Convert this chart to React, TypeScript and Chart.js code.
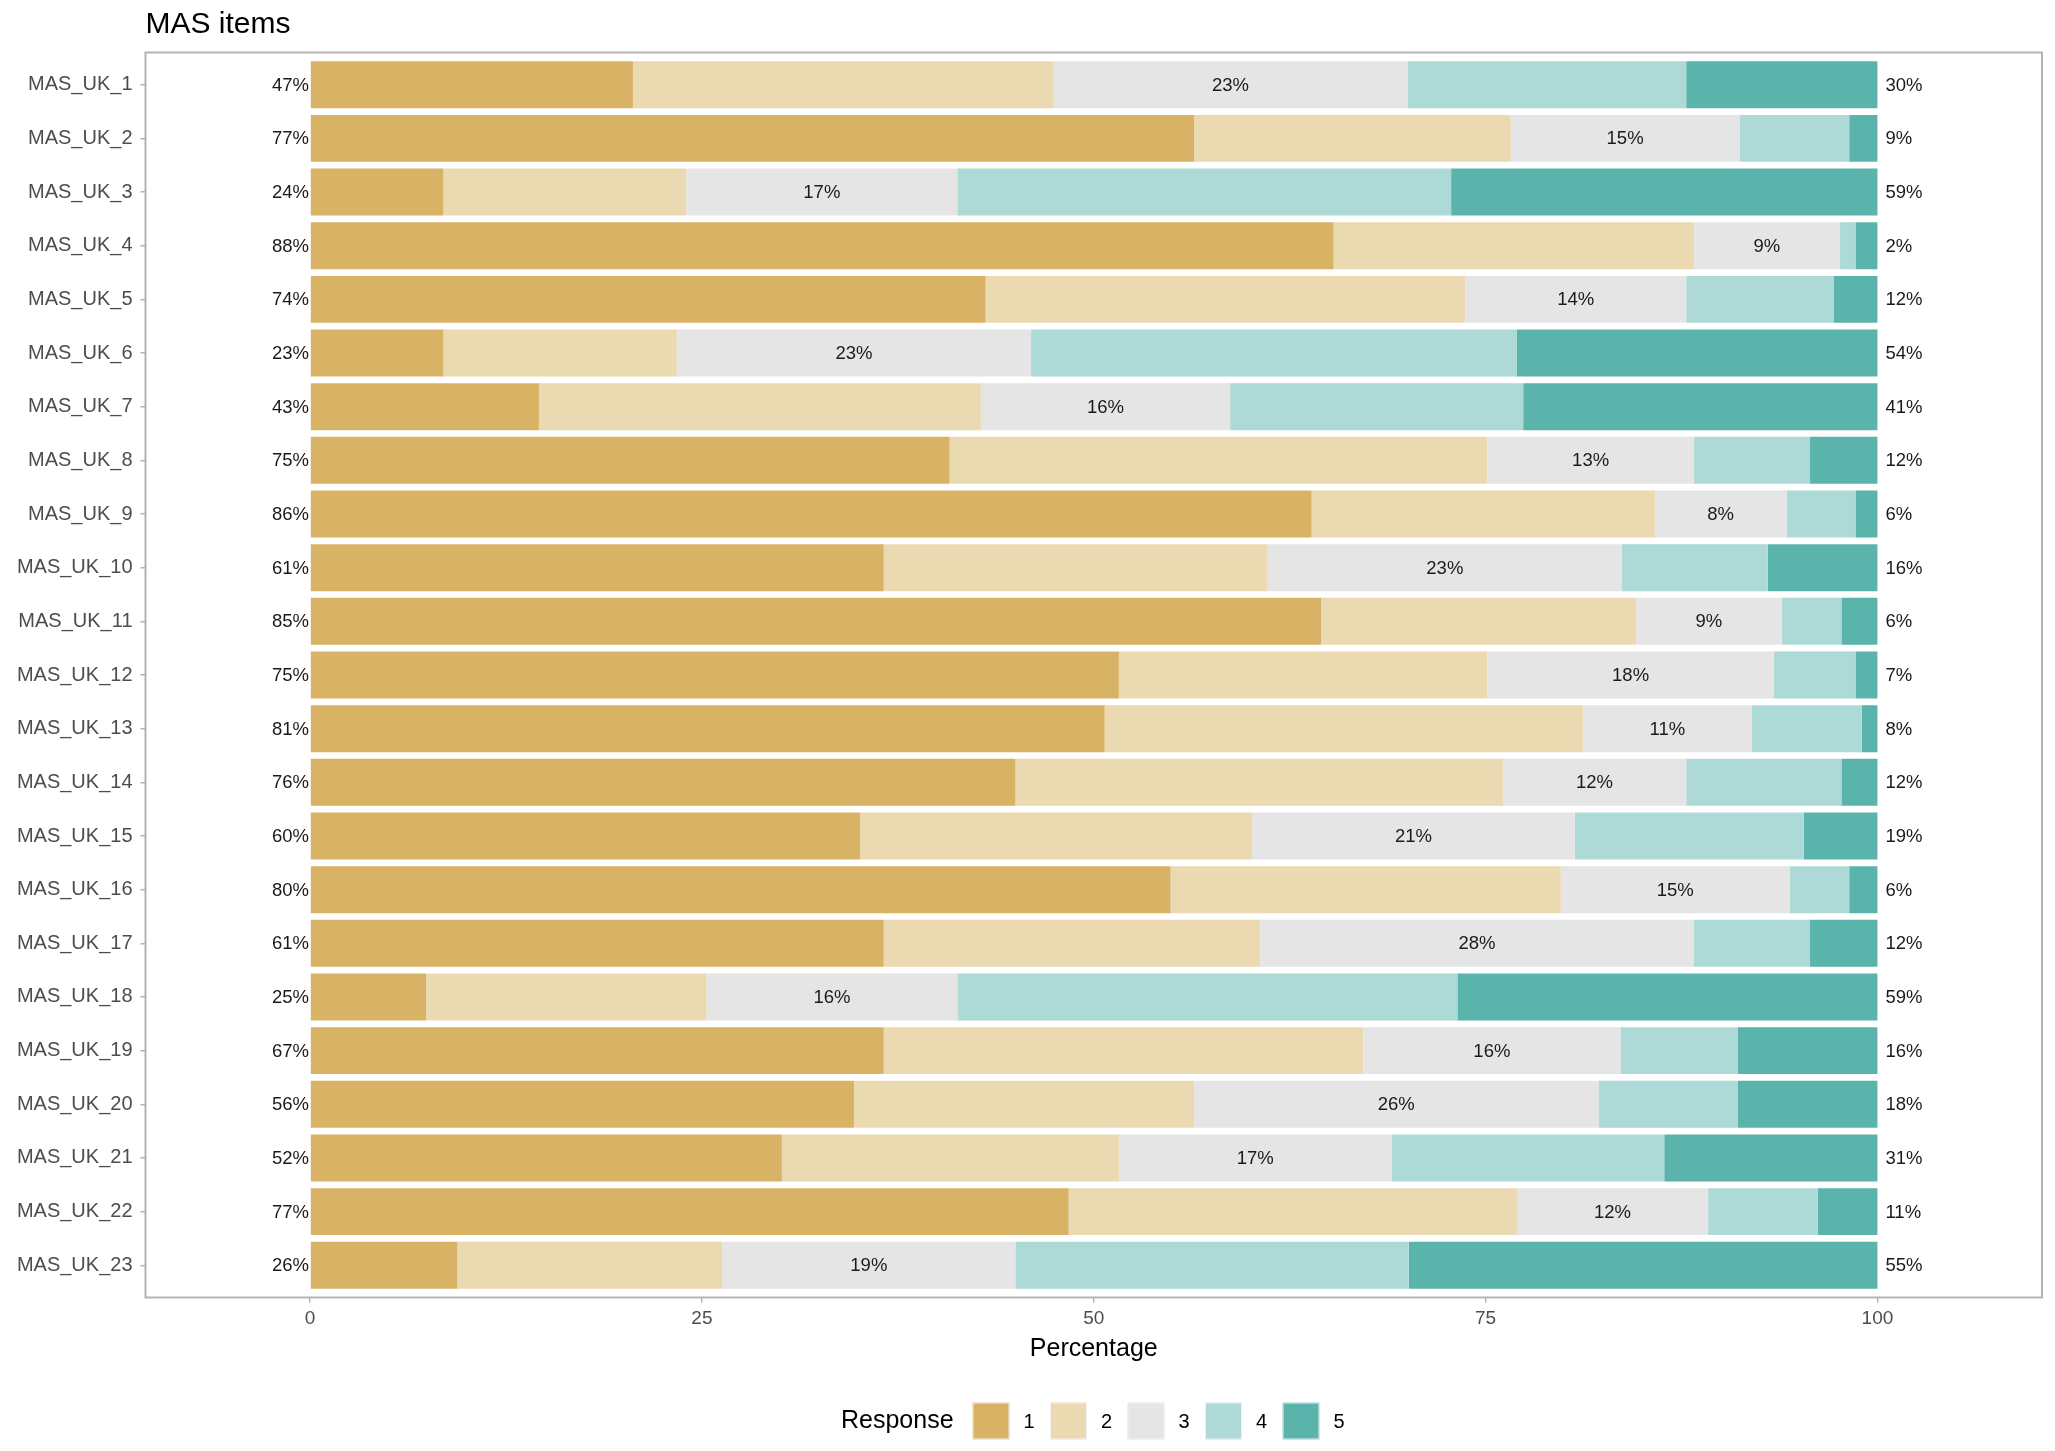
import React, { useEffect, useRef } from 'react';
import { Chart, registerables } from 'chart.js';

Chart.register(...registerables);

// ---- data ----
const items = [
  'MAS_UK_1', 'MAS_UK_2', 'MAS_UK_3', 'MAS_UK_4', 'MAS_UK_5', 'MAS_UK_6',
  'MAS_UK_7', 'MAS_UK_8', 'MAS_UK_9', 'MAS_UK_10', 'MAS_UK_11', 'MAS_UK_12',
  'MAS_UK_13', 'MAS_UK_14', 'MAS_UK_15', 'MAS_UK_16', 'MAS_UK_17', 'MAS_UK_18',
  'MAS_UK_19', 'MAS_UK_20', 'MAS_UK_21', 'MAS_UK_22', 'MAS_UK_23',
];
const responseLevels = ['1', '2', '3', '4', '5'];
const resp1 = [20.6, 56.4, 8.5, 65.3, 43.1, 8.5, 14.6, 40.8, 63.9, 36.6, 64.5, 51.6, 50.7, 45.0, 35.1, 54.9, 36.6, 7.4, 36.6, 34.7, 30.1, 48.4, 9.4];
const resp2 = [26.8, 20.2, 15.5, 23.0, 30.6, 14.9, 28.2, 34.3, 21.9, 24.5, 20.1, 23.5, 30.5, 31.1, 25.0, 24.9, 24.0, 17.9, 30.6, 21.7, 21.5, 28.6, 16.9];
const resp3 = [22.65, 14.6, 17.3, 9.3, 14.1, 22.6, 15.9, 13.2, 8.4, 22.6, 9.3, 18.3, 10.8, 11.7, 20.6, 14.6, 27.7, 16.0, 16.4, 25.8, 17.4, 12.2, 18.7];
const resp4 = [17.75, 7.0, 31.5, 1.0, 9.4, 31.0, 18.7, 7.4, 4.4, 9.3, 3.8, 5.2, 7.0, 9.9, 14.6, 3.8, 7.4, 31.9, 7.5, 8.9, 17.4, 7.0, 25.1];
const resp5 = [12.2, 1.8, 27.2, 1.4, 2.8, 23.0, 22.6, 4.3, 1.4, 7.0, 2.3, 1.4, 1.0, 2.3, 4.7, 1.8, 4.3, 26.8, 8.9, 8.9, 13.6, 3.8, 29.9];
const xTicks = [0, 25, 50, 75, 100];

const seriesValues = [resp1, resp2, resp3, resp4, resp5];
const colors = ['#D8B365', '#EBD9B2', '#E5E5E5', '#ADDAD6', '#5AB4AC'];

const FONT = '"Liberation Sans", Arial, Helvetica, sans-serif';

const decorPlugin = {
  id: 'decor',
  afterDraw(chart: any) {
    const { ctx, chartArea: a, scales } = chart;
    const x = scales.x;
    const y = scales.y;
    ctx.save();

    // panel border
    ctx.strokeStyle = '#B3B3B3';
    ctx.lineWidth = 2;
    ctx.strokeRect(a.left, a.top, a.right - a.left, a.bottom - a.top);

    // percent labels
    ctx.font = `18.5px ${FONT}`;
    ctx.fillStyle = '#1A1A1A';
    ctx.textBaseline = 'middle';
    items.forEach((_, i) => {
      const yc = y.getPixelForValue(i) + 1;
      const left = resp1[i] + resp2[i];
      const mid = resp3[i];
      const right = resp4[i] + resp5[i];
      ctx.textAlign = 'right';
      ctx.fillText(`${Math.round(left)}%`, x.getPixelForValue(0) - 1, yc);
      ctx.textAlign = 'center';
      ctx.fillText(`${Math.round(mid)}%`, x.getPixelForValue(left + mid / 2), yc);
      ctx.textAlign = 'left';
      ctx.fillText(`${Math.round(right)}%`, x.getPixelForValue(100) + 8, yc);
    });

    // title
    ctx.fillStyle = '#000000';
    ctx.font = `30px ${FONT}`;
    ctx.textAlign = 'left';
    ctx.textBaseline = 'middle';
    ctx.fillText('MAS items', a.left, 25);

    // x axis title
    ctx.font = `25px ${FONT}`;
    ctx.textAlign = 'center';
    ctx.fillText('Percentage', (a.left + a.right) / 2, 1349);

    // legend
    const ly = 1421;
    ctx.textAlign = 'left';
    ctx.fillText('Response', 841, ly);
    const box = 37;
    ctx.font = `20px ${FONT}`;
    responseLevels.forEach((lab, k) => {
      const bx = 972.5 + k * 77.5;
      ctx.fillStyle = colors[k];
      ctx.fillRect(bx, ly - box / 2, box, box);
      ctx.strokeStyle = '#F2F2F2';
      ctx.lineWidth = 1;
      ctx.strokeRect(bx + 0.5, ly - box / 2 + 0.5, box - 1, box - 1);
      ctx.fillStyle = '#000000';
      ctx.fillText(lab, bx + box + 14, ly + 1);
    });

    ctx.restore();
  },
};

export default function App() {
  const canvasRef = useRef<HTMLCanvasElement | null>(null);

  useEffect(() => {
    if (!canvasRef.current) return;
    const datasets = seriesValues.map((vals, k) => ({
      label: responseLevels[k],
      data: vals.map((v, i) => ({ x: v, y: i })),
      backgroundColor: colors[k],
      borderWidth: 0,
      barPercentage: 0.875,
      categoryPercentage: 1.0,
    }));

    const chart = new Chart(canvasRef.current, {
      type: 'bar',
      data: { datasets },
      plugins: [decorPlugin],
      options: {
        indexAxis: 'y',
        animation: false,
        responsive: false,
        devicePixelRatio: 1,
        layout: { padding: { left: 0, right: 13, top: 52.5, bottom: 113.5 } },
        plugins: {
          legend: { display: false },
          title: { display: false },
          tooltip: { enabled: false },
        },
        scales: {
          x: {
            type: 'linear',
            stacked: true,
            offset: false,
            min: -10.5,
            max: 110.5,
            afterBuildTicks: (scale: any) => {
              scale.ticks = xTicks.map((v) => ({ value: v }));
            },
            afterFit: (scale: any) => {
              scale.height = 40;
            },
            grid: {
              display: true,
              offset: false,
              drawOnChartArea: false,
              drawTicks: true,
              tickLength: 5,
              color: '#B3B3B3',
              lineWidth: 1.5,
            },
            border: { display: false },
            ticks: {
              padding: 5,
              color: '#4D4D4D',
              font: { family: FONT, size: 19 },
              callback: (v: any) => String(v),
              maxRotation: 0,
              autoSkip: false,
            },
          },
          y: {
            type: 'linear',
            stacked: true,
            offset: false,
            reverse: true,
            min: -0.6,
            max: items.length - 0.4,
            afterBuildTicks: (scale: any) => {
              scale.ticks = items.map((_, i) => ({ value: i }));
            },
            afterFit: (scale: any) => {
              scale.width = 145.5;
            },
            grid: {
              display: true,
              offset: false,
              drawOnChartArea: false,
              drawTicks: true,
              tickLength: 5,
              color: '#B3B3B3',
              lineWidth: 1.5,
            },
            border: { display: false },
            ticks: {
              padding: 8,
              color: '#4D4D4D',
              font: { family: FONT, size: 20 },
              autoSkip: false,
              callback: (v: any) => items[v as number] ?? '',
            },
          },
        },
      },
    });
    return () => chart.destroy();
  }, []);

  return (
    <div style={{ position: 'fixed', left: 0, top: 0, width: 2055, height: 1451, background: '#ffffff' }}>
      <canvas ref={canvasRef} width={2055} height={1451} style={{ display: 'block', width: 2055, height: 1451 }} />
    </div>
  );
}
